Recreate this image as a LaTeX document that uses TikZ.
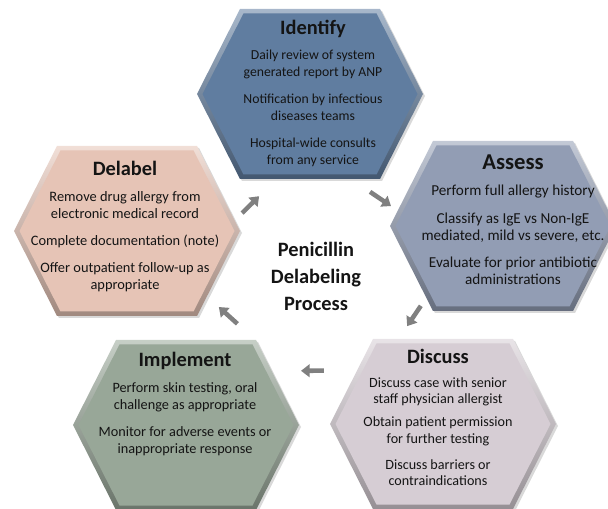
\documentclass[tikz,border=0pt]{standalone}
\usepackage{fontspec}
\setmainfont{Carlito}
\usepackage{xcolor}
\usetikzlibrary{arrows.meta,calc,shadows}
\definecolor{identifyblue}{RGB}{96,125,160}
\definecolor{assessgray}{RGB}{146,157,180}
\definecolor{discussmauve}{RGB}{214,205,212}
\definecolor{implementgreen}{RGB}{152,167,152}
\definecolor{delabelpeach}{RGB}{230,196,182}
\definecolor{flowgray}{RGB}{128,128,128}
\definecolor{inkdark}{RGB}{20,20,20}
\newcommand{\stagetitle}[1]{{\fontsize{15.3}{18}\selectfont\bfseries #1}}

\begin{document}
\begin{tikzpicture}[x=0.75pt,y=0.75pt,>={Triangle[length=6.5pt,width=9.5pt]},
  bevel/.style={top color=#1!55!white,bottom color=#1!70!black,
    drop shadow={shadow xshift=1.5pt,shadow yshift=-1.5pt,opacity=0.3}},
  face/.style={fill=#1},
  card/.style={align=center,inner sep=0pt,anchor=north,text=inkdark,
    font=\fontsize{10.7}{12.75}\selectfont},
  flow/.style={->,draw=flowgray,line width=3.4pt}]
  \useasboundingbox (0,0) rectangle (608,508);
  % hexagon centres
  \coordinate (identify) at (310,414);
  \coordinate (assess) at (503,282);
  \coordinate (discuss) at (443,84);
  \coordinate (implement) at (186,83);
  \coordinate (delabel) at (127,277);
  % bevelled hexagons: shaded rim, flat face inset
  \foreach \n/\col in {identify/identifyblue,assess/assessgray,discuss/discussmauve,
      implement/implementgreen,delabel/delabelpeach}{
    \path[bevel=\col] ($(\n)+(-113,0)$) -- ($(\n)+(-70,85)$) -- ($(\n)+(70,85)$)
      -- ($(\n)+(113,0)$) -- ($(\n)+(70,-85)$) -- ($(\n)+(-70,-85)$) -- cycle;
    \path[face=\col] ($(\n)+(-107.5,0)$) -- ($(\n)+(-66.5,80.5)$) -- ($(\n)+(66.5,80.5)$)
      -- ($(\n)+(107.5,0)$) -- ($(\n)+(66.5,-80.5)$) -- ($(\n)+(-66.5,-80.5)$) -- cycle;
  }
  % stage texts
  \node[card,font=\fontsize{10.3}{12.75}\selectfont] (identify-t) at (313,488.5)
    {\stagetitle{Identify}\\[6.5pt]
    Daily review of system\\generated report by ANP\\[7.5pt]
    Notification by infectious\\diseases teams\\[7.5pt]
    Hospital-wide consults\\from any service};
  \node[card,font=\fontsize{11.4}{12.75}\selectfont] (assess-t) at (513,353)
    {{\fontsize{17}{18}\selectfont\bfseries Assess}\\[6.5pt]
    Perform full allergy history\\[7.8pt]
    Classify as IgE vs Non-IgE\\mediated, mild vs severe, etc.\\[7.8pt]
    Evaluate for prior antibiotic\\administrations};
  \node[card,font=\fontsize{10.6}{12.3}\selectfont] (discuss-t) at (438,159.5)
    {\stagetitle{Discuss}\\[6pt]
    Discuss case with senior\\staff physician allergist\\[5pt]
    Obtain patient permission\\for further testing\\[7pt]
    Discuss barriers or\\contraindications};
  \node[card] (implement-t) at (185,156) {\stagetitle{Implement}\\[7pt]
    Perform skin testing, oral\\challenge as appropriate\\[7.5pt]
    Monitor for adverse events or\\inappropriate response};
  \node[card,font=\fontsize{10.8}{12.75}\selectfont] (delabel-t) at (125,347)
    {\stagetitle{Delabel}\\[6.8pt]
    Remove drug allergy from\\electronic medical record\\[7.3pt]
    Complete documentation (note)\\[7.3pt]
    Offer outpatient follow-up as\\appropriate};
  \node[align=center,text=inkdark,font=\fontsize{15.3}{20.25}\selectfont\bfseries]
    (title) at (316,232) {Penicillin\\Delabeling\\Process};
  % cycle arrows round the title
  \draw[flow] ($(title)+(139.6:97)$) -- ($(title)+(125.5:98)$);
  \draw[flow] ($(title)+(57.3:100)$) -- ($(title)+(43:102.6)$);
  \draw[flow] ($(title)+(-15.9:109)$) -- ($(title)+(-28.8:104)$);
  \draw[flow] ($(title)+(-85.2:95)$) -- ($(title)+(-99:96)$);
  \draw[flow] ($(title)+(211.3:92)$) -- ($(title)+(197.7:102)$);
\end{tikzpicture}
\end{document}
